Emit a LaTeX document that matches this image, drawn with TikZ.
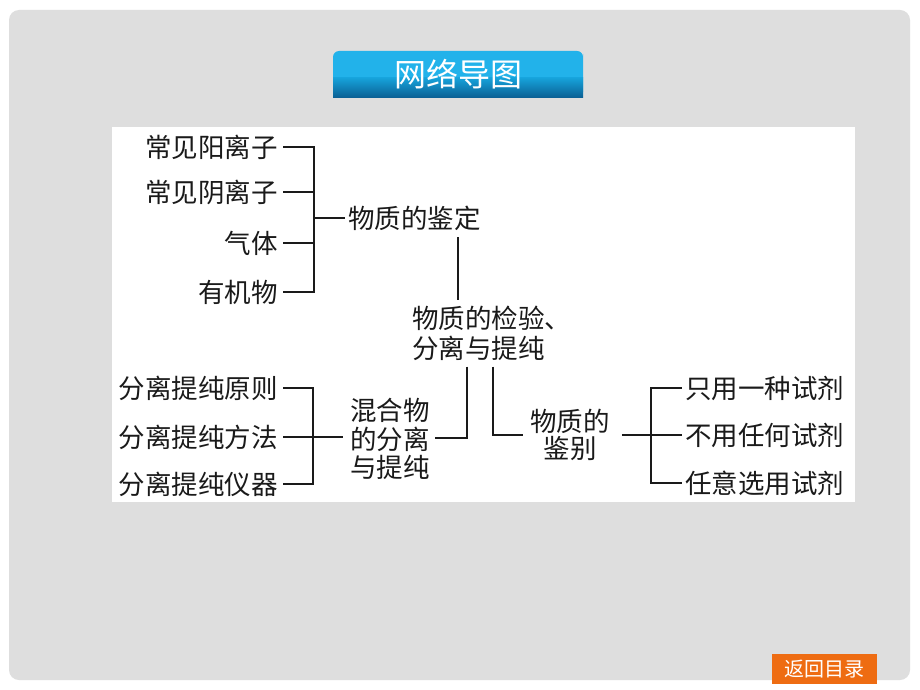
\documentclass[tikz,border=0pt]{standalone}
\usepackage{fontspec}
\newfontfamily\cjk{Noto Sans CJK SC}
\definecolor{panel}{HTML}{DEDEDE}
\definecolor{ttop}{HTML}{22B2EA}
\definecolor{tmid}{HTML}{16A2DA}
\definecolor{tbot}{HTML}{0A5E92}
\definecolor{btn}{HTML}{EE6C12}
\definecolor{ink}{HTML}{1A1A1A}
\begin{document}
\begin{tikzpicture}[x=1pt,y=-1pt,
  lbl/.style={font=\cjk\fontsize{26.5}{30}\selectfont, inner sep=0pt, text=ink},
  ln/.style={line width=1.4pt, draw=ink},
]
\useasboundingbox (0,0) rectangle (920,690);
\fill[white] (0,0) rectangle (920,690);
\fill[panel, rounded corners=10pt] (9,10) rectangle (910,680);
% title
\fill[ttop, rounded corners=6pt] (333,98) -- (333,51) -- (583,51) -- (583,60) -- (583,98) -- cycle;
\shade[top color=tmid, bottom color=tbot] (333,78) rectangle (583,98);
\node[font=\cjk\fontsize{32}{32}\selectfont, text=white, inner sep=0pt] (title) at (458,74) {网络导图};
% white panel
\fill[white] (112,127) rectangle (855,502);
% upper group
\node[lbl, anchor=east] (a1) at (278,147) {常见阳离子};
\node[lbl, anchor=east] (a2) at (278,192) {常见阴离子};
\node[lbl, anchor=east] (a3) at (278,243) {气体};
\node[lbl, anchor=east] (a4) at (278,292) {有机物};
\node[lbl, anchor=west] (jd) at (348,218) {物质的鉴定};
\coordinate (ka) at (314,218);
\foreach \n in {a1,a2,a3,a4} \draw[ln] ([xshift=5pt]\n.east) -| (ka);
\draw[ln] (ka) -- ([xshift=-3pt]jd.west);
% main
\node[lbl, anchor=west, align=left] (main) at (412,333) {物质的检验、\\分离与提纯};
\coordinate (v1) at (458,237);
\draw[ln] (v1) -- ([yshift=5pt]main.north -| v1);
% lower left
\node[lbl, anchor=east] (b1) at (278,388) {分离提纯原则};
\node[lbl, anchor=east] (b2) at (278,437) {分离提纯方法};
\node[lbl, anchor=east] (b3) at (278,484) {分离提纯仪器};
\node[lbl, align=center, font=\cjk\fontsize{26.5}{28.5}\selectfont] (mix) at (390,439) {混合物\\的分离\\与提纯};
\coordinate (kb) at (313,437);
\foreach \n in {b1,b2,b3} \draw[ln] ([xshift=5pt]\n.east) -| (kb);
\draw[ln] (kb) -- ([xshift=-7pt]mix.west |- kb);
\coordinate (k1) at (467,438);
\draw[ln] ([yshift=-6pt]main.south -| k1) -- (k1) -- ([xshift=5pt]mix.east |- k1);
% lower right
\node[lbl, align=center, font=\cjk\fontsize{26.5}{27}\selectfont] (jb) at (570,435) {物质的\\鉴别};
\coordinate (k2) at (493,435);
\draw[ln] ([yshift=-6pt]main.south -| k2) -- (k2) -- ([xshift=-7pt]jb.west |- k2);
\node[lbl, anchor=west] (c1) at (685,388) {只用一种试剂};
\node[lbl, anchor=west] (c2) at (685,435) {不用任何试剂};
\node[lbl, anchor=west] (c3) at (685,483) {任意选用试剂};
\coordinate (kc) at (651,435);
\draw[ln] ([xshift=12pt]jb.east |- kc) -- (kc);
\foreach \n in {c1,c2,c3} \draw[ln] (kc) |- ([xshift=-3pt]\n.west);
% button
\fill[btn] (772,654) rectangle (877,684);
\node[font=\cjk\fontsize{20}{20}\selectfont, text=white, inner sep=0pt] (back) at (824.5,669) {返回目录};
\end{tikzpicture}
\end{document}
